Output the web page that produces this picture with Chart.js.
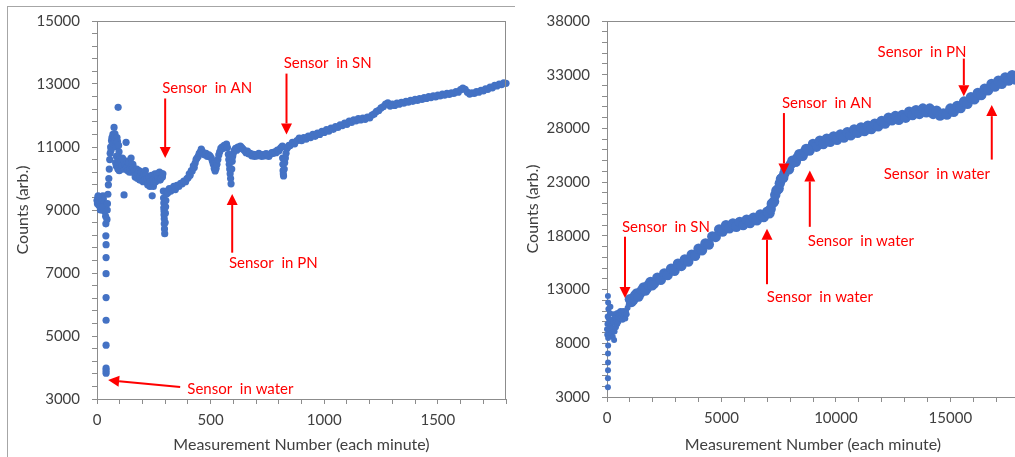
<!DOCTYPE html>
<html><head><meta charset="utf-8">
<script src="https://cdn.jsdelivr.net/npm/chart.js@4/dist/chart.umd.min.js"></script>
<style>
html,body{margin:0;padding:0;background:#fff;width:1015px;height:457px;overflow:hidden;}
#frame{position:absolute;left:7px;top:6px;width:510px;height:470px;border-left:1px solid #a6a6a6;border-top:1px solid #a6a6a6;}
#left{position:absolute;left:0;top:0;width:515px;height:457px;}
#right{position:absolute;left:515px;top:0;width:515px;height:457px;background:#fff;}
</style></head><body>
<div id="frame"></div>
<div id="left"><canvas id="c1"></canvas></div>
<div id="right"><canvas id="c2"></canvas></div>
<script>
// ---------- data (measurement number, counts) ----------
const leftCounts = [
[0,9300],[2,9200],[4,9400],[6,9250],[8,9150],[10,9350],[12,9300],[14,9100],[16,9250],[18,9400],[20,9200],[22,9000],[24,9300],[26,9450],[28,9350],[30,9200],[32,9050],[34,8950],[36,9150],[5,9450],[15,9000],[25,9100],
[38,8800],[39,8560],[39,8180],[40,7900],[40,7490],[40,6980],[40,6220],[40,5500],[40,4710],[40,3980],[40,3900],[40,3820],
[44,8700],[45,9000],[46,9200],[48,9500],[50,9800],[52,10000],[54,10300],[56,10600],[58,10800],[60,11000],[62,10900],[64,11200],[66,11300],[68,11100],[70,11400],[72,11350],[75,11620],[77,11300],[79,11420],[81,11200],[84,11000],[86,10700],[88,11300],[90,11180],[93,12260],[95,11050],[97,10850],[82,10500],[85,10400],[88,10700],[92,10300],[96,10600],[98,10250],[100,10500],[103,10650],[106,10300],
[105,10550],[110,10400],[112,10650],[115,10600],[119,9480],[120,10300],[125,10450],[128,11150],[130,10350],[132,10550],[135,10250],[140,10500],[143,10200],[145,10300],[150,10650],[152,10400],[155,10200],[158,10450],[160,10350],[165,10250],[168,10050],[170,10100],[175,10300],[178,10000],[180,10150],[185,10250],[188,9950],[190,10050],[195,10200],[200,10000],[203,9900],[205,10150],[210,9950],[213,10250],[215,10100],[220,10000],[223,9800],[225,9850],[230,10050],[233,9750],[235,9900],[240,10100],[243,9450],[245,9950],[248,9750],[250,9850],[255,10150],[258,9900],[260,9950],[265,10150],[268,9950],[270,10050],[275,10200],[278,9950],[280,10000],[285,10150],[288,10050],[290,10150],
[292,9600],[293,9380],[294,9220],[294,9070],[295,8970],[295,8850],[296,8720],[296,8560],[297,8400],[298,8250],[300,8600],[301,8900],[302,9100],[303,9300],[305,9500],[308,9600],
[312,9550],[318,9680],[325,9600],[331,9670],[338,9750],[345,9650],[352,9780],[360,9750],[368,9850],[375,9830],[382,9920],[390,9900],[396,10000],[401,10020],[406,10150],[410,10100],[415,10250],[419,10240],[424,10400],[428,10350],[432,10490],[436,10600],[440,10650],[446,10710],[450,10800],[455,10850],[459,10930],[463,10870],[468,10800],
[474,10750],[480,10800],[486,10700],[492,10750],[498,10710],[503,10650],[508,10550],[512,10450],[516,10320],[520,10240],[524,10320],[528,10450],[532,10600],[536,10750],[540,10850],[545,10960],[550,11000],[555,10950],[560,11050],[565,11000],[570,11090],[574,10980],
[578,10770],[580,10600],[582,10450],[584,10300],[586,10150],[588,10000],[590,9830],
[593,10300],[595,10550],[597,10700],[600,10800],[605,10900],[610,10960],[615,10900],[620,11000],[625,10950],[631,11030],[637,10980],[643,10930],[650,10880],[656,10820],[662,10870],[668,10780],[675,10800],[681,10720],[688,10770],[694,10700],[700,10760],[706,10720],[712,10800],[719,10770],[725,10700],[731,10760],[738,10720],[744,10790],[750,10770],[756,10700],[762,10760],[769,10820],[776,10800],[782,10850],[788,10820],[794,10900],[800,10870],[807,10960],[812,11000],[816,11030],
[817,10650],[818,10450],[819,10250],[820,10140],[821,10080],[824,10300],[826,10500],[829,10650],[832,10800],[836,10950],[840,11000],[845,11050],
[850,11050],[860,11150],[870,11100],[880,11200],[890,11280],[900,11200],[910,11300],[920,11250],[930,11350],[940,11300],[950,11400],[960,11340],[970,11440],[980,11400],[990,11500],[1000,11460],[1010,11550],[1020,11500],[1030,11600],[1040,11560],[1050,11650],[1060,11620],[1070,11700],[1080,11680],[1090,11760],[1100,11720],[1110,11820],[1120,11780],[1130,11860],[1140,11830],[1150,11900],[1160,11860],[1170,11920],[1180,11880],[1190,11950],[1200,11920],[1210,12010],[1220,12050],[1230,12130],[1240,12160],[1250,12240],[1260,12280],[1270,12360],[1280,12400],[1290,12300],[1300,12360],[1310,12320],[1320,12390],[1330,12360],[1340,12420],[1350,12390],[1360,12450],[1370,12420],[1380,12480],[1390,12450],[1400,12510],[1410,12480],[1420,12540],[1430,12510],[1440,12570],[1450,12540],[1460,12600],[1470,12570],[1480,12620],[1490,12590],[1500,12650],[1510,12620],[1520,12680],[1530,12650],[1540,12700],[1550,12670],[1560,12720],[1570,12700],[1580,12760],[1590,12740],[1600,12820],[1610,12870],[1620,12830],[1630,12740],[1640,12680],[1650,12720],[1660,12700],[1670,12760],[1680,12740],[1690,12800],[1700,12780],[1710,12850],[1720,12830],[1730,12900],[1740,12880],[1750,12960],[1760,12940],[1770,13000],[1780,12980],[1790,13040],[1800,13020]
];
const rightEarly = [
[0,9300],[10,8800],[20,9800],[30,10500],[40,12390],[50,11800],[60,11200],[70,10300],[90,9200],[110,9900],[130,10800],[150,11400],[170,9600],[190,8900],[210,10200],[230,9400],[250,8600],[270,10000],[290,10700],[310,8300],[330,9100],[350,9900],[370,10400],[390,9500],[410,10100],[430,10800],[450,9800],[480,10400],[500,10000],[530,10900],[560,10300],[590,11000],[620,10500],[650,10800],[680,10200],[710,11000],[740,10500],[770,10700],[800,10300],[830,11000],[860,10700],[900,11300],[950,11600],
[40,3900],[40,4750],[45,5500],[45,6200],[45,7050],[50,7800],[50,8500]
];
const rightMain = [
[1000,12100],[1150,12050],[1300,12650],[1450,12650],[1600,13200],[1750,13150],[1900,13700],[2050,13550],[2200,14100],[2350,13900],[2500,14500],[2650,14350],[2800,14950],[2950,14750],[3100,15400],[3250,15200],[3400,15800],[3550,15600],[3700,16250],[3850,16150],[4000,16800],[4150,16650],[4300,17300],[4450,17200],[4600,17950],[4750,17900],[4900,18600],[5050,18400],[5200,19000],[5350,18700],[5500,19150],[5650,18850],[5800,19300],[5950,19000],[6100,19500],[6250,19200],[6400,19700],[6550,19450],[6700,20000],[6850,19750],[7000,20250],[7100,20100],[7200,21000],[7300,21200],[7400,22200],[7500,22400],[7600,23300],[7700,23400],[7800,24200],[7950,24200],[8100,25000],[8250,24900],[8400,25600],[8550,25450],[8700,26100],[8850,25950],[9000,26550],[9150,26300],[9300,26850],[9450,26550],[9600,27050],[9750,26750],[9900,27250],[10050,26950],[10200,27450],[10350,27150],[10500,27650],[10650,27350],[10800,27900],[10950,27600],[11100,28100],[11250,27750],[11400,28250],[11550,27950],[11700,28450],[11850,28200],[12000,28700],[12150,28450],[12300,29000],[12450,28750],[12600,29150],[12750,28800],[12900,29250],[13050,29000],[13200,29550],[13350,29250],[13500,29700],[13650,29350],[13800,29850],[13950,29500],[14100,29850],[14250,29350],[14400,29650],[14550,29200],[14700,29400],[14850,29300],[15000,29850],[15150,29550],[15300,30100],[15450,29900],[15600,30500],[15750,30300],[15900,30900],[16050,30700],[16200,31300],[16350,31100],[16500,31700],[16650,31550],[16800,32150],[16950,31900],[17100,32450],[17250,32150],[17400,32750],[17550,32450],[17700,32950],[17850,32550],[18000,33100],
[1075,11850],[1225,12450],[1375,12350],[1525,12950],[1675,12900],[1825,13450],[1975,13400],
[7050,20150],[7150,20500],[7250,21100],[7350,21800],[7450,22300],[7550,22900],[7650,23400],[7750,23800],[7875,24300],[8025,24650],[8175,24950],[8325,25300],[8475,25500],[8625,25800],[8775,26050]
];

// annotation arrows: [tailX, tailY, tipX, tipY] in data units
const leftArrows = [[300,12540,300,10650],[595,7645,595,9510],[834,13330,834,11400],[366,3380,49,3600]];
const leftLabels = [["Sensor  in AN",485,12860],["Sensor  in PN",776,7300],["Sensor  in SN",1015,13650],["Sensor  in water",631,3316]];
const rightArrows = [[786,17920,786,12210],[6990,13500,6990,18660],[7730,29430,7730,23720],[8860,18840,8860,24090],[15590,34500,15590,31000],[16810,25100,16810,30170]];
const rightLabels = [["Sensor  in SN",2576,18840],["Sensor  in water",9300,12300],["Sensor  in AN",9610,30350],["Sensor  in water",11090,17550],["Sensor  in PN",13760,35140],["Sensor  in water",14410,23720]];

const BLUE = '#4472C4', AXIS = '#8c8c8c', TXT = '#404040', RED = '#ff0000';
const FONT = 'Lato';
const toXY = a => a.map(p => ({x:p[0], y:p[1]}));

const annot = {
  id:'annot',
  afterDatasetsDraw(chart, args, o) {
    const {ctx, chartArea:a, scales:{x, y}} = chart;
    ctx.save();
    ctx.strokeStyle = AXIS; ctx.lineWidth = 1;
    ctx.beginPath();
    ctx.moveTo(a.left, a.top + 0.5); ctx.lineTo(a.right, a.top + 0.5);
    ctx.moveTo(a.right - 0.5, a.top); ctx.lineTo(a.right - 0.5, a.bottom);
    ctx.stroke();
    ctx.strokeStyle = RED; ctx.fillStyle = RED; ctx.lineWidth = 2;
    for (const [x1, y1, x2, y2] of o.arrows) {
      const px1 = x.getPixelForValue(x1), py1 = y.getPixelForValue(y1);
      const px2 = x.getPixelForValue(x2), py2 = y.getPixelForValue(y2);
      const ang = Math.atan2(py2 - py1, px2 - px1);
      const L = 11, W = 5.5;
      const bx = px2 - L * Math.cos(ang), by = py2 - L * Math.sin(ang);
      ctx.beginPath(); ctx.moveTo(px1, py1); ctx.lineTo(bx, by); ctx.stroke();
      ctx.beginPath();
      ctx.moveTo(px2, py2);
      ctx.lineTo(bx + W * Math.sin(ang), by - W * Math.cos(ang));
      ctx.lineTo(bx - W * Math.sin(ang), by + W * Math.cos(ang));
      ctx.closePath(); ctx.fill();
    }
    ctx.font = '15px ' + FONT; ctx.textAlign = 'center'; ctx.textBaseline = 'middle';
    for (const [t, tx, ty] of o.labels) ctx.fillText(t, x.getPixelForValue(tx), y.getPixelForValue(ty));
    ctx.restore();
  }
};

function makeChart(id, cfg) {
  const tickFont = {family: FONT, size: 15};
  const titleFont = {family: FONT, size: 16};
  return new Chart(document.getElementById(id), {
    type: 'scatter',
    data: {datasets: cfg.datasets},
    options: {
      responsive: true, maintainAspectRatio: false, animation: false,
      layout: {padding: {left: 0, top: cfg.top, right: cfg.right, bottom: 0}},
      plugins: {legend: {display: false}, tooltip: {enabled: false}, annot: {arrows: cfg.arrows, labels: cfg.labels}},
      scales: {
        x: {
          type: 'linear', min: cfg.xmin, max: cfg.xmax,
          ticks: {stepSize: cfg.xstep, autoSkip: false, maxRotation: 0, padding: 7, color: TXT, font: tickFont,
                  callback: v => (v % cfg.xlab === 0 ? String(v) : '')},
          grid: {drawOnChartArea: false, drawTicks: true, tickLength: 5, color: AXIS},
          border: {display: true, color: AXIS, width: 1},
          title: {display: true, text: 'Measurement Number (each minute)', color: TXT, font: titleFont, padding: {top: 0, bottom: 3}},
          afterFit: s => { s.height = cfg.xh; }
        },
        y: {
          type: 'linear', min: cfg.ymin, max: cfg.ymax,
          ticks: {stepSize: cfg.ystep, autoSkip: false, padding: 12, color: TXT, font: tickFont,
                  callback: v => ((v - cfg.ymin) % cfg.ylab === 0 ? String(v) : '')},
          grid: {drawOnChartArea: false, drawTicks: true, tickLength: 5, color: AXIS},
          border: {display: true, color: AXIS, width: 1},
          title: {display: true, text: 'Counts (arb.)', color: TXT, font: titleFont, padding: {top: cfg.ytp, bottom: 0}},
          afterFit: s => { s.width = cfg.yw; }
        }
      }
    },
    plugins: [annot]
  });
}

makeChart('c1', {
  datasets: [{data: toXY(leftCounts), backgroundColor: BLUE, borderWidth: 0, pointRadius: 3.6, clip: 6}],
  top: 20, right: 9, xmin: 0, xmax: 1800, xstep: 100, xlab: 500, xh: 58,
  ymin: 3000, ymax: 15000, ystep: 400, ylab: 2000, yw: 97, ytp: 13,
  arrows: leftArrows, labels: leftLabels
});
makeChart('c2', {
  datasets: [
    {data: toXY(rightEarly), backgroundColor: BLUE, borderWidth: 0, pointRadius: 3, clip: 6},
    {data: toXY(rightMain), backgroundColor: BLUE, borderWidth: 0, pointRadius: 5.2, clip: 6}
  ],
  top: 17, right: 11, xmin: 0, xmax: 18000, xstep: 1000, xlab: 5000, xh: 60,
  ymin: 3000, ymax: 38000, ystep: 1000, ylab: 5000, yw: 92, ytp: 8,
  arrows: rightArrows, labels: rightLabels
});
</script>
</body></html>
